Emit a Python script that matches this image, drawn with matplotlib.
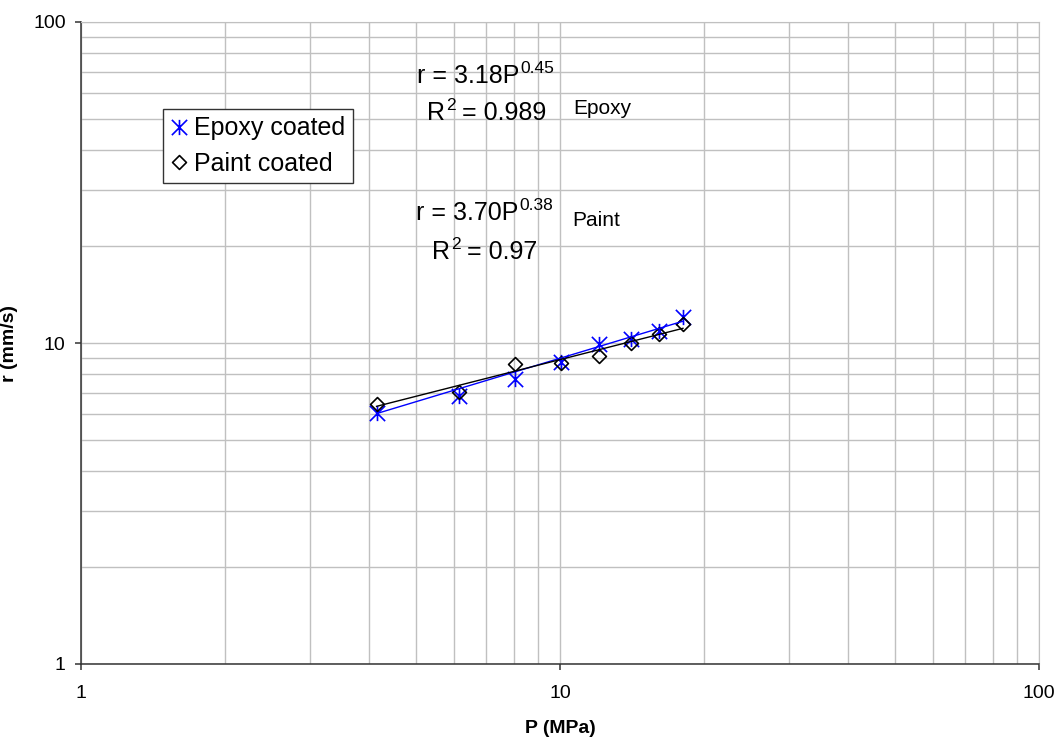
import matplotlib
matplotlib.use("Agg")
import matplotlib.pyplot as plt
import numpy as np
from matplotlib.path import Path

plt.rcParams["font.family"] = ["Liberation Sans", "DejaVu Sans"]

# data
P_epoxy = [4.14, 6.14, 8.05, 10.07, 12.05, 14.1, 16.09, 18.06]
r_epoxy = [6.04, 6.84, 7.71, 8.74, 9.91, 10.27, 10.92, 12.02]
P_paint = [4.14, 6.14, 8.05, 10.07, 12.05, 14.1, 16.09, 18.06]
r_paint = [6.44, 7.02, 8.60, 8.64, 9.11, 9.98, 10.64, 11.47]

# power-law fits as printed on the chart
fit_epoxy = (3.18, 0.45)
fit_paint = (3.70, 0.38)

# excel style asterisk (X plus vertical bar) and open diamond
ast = Path([(0, -1), (0, 1), (-1, -1), (1, 1), (-1, 1), (1, -1)],
           [Path.MOVETO, Path.LINETO, Path.MOVETO, Path.LINETO, Path.MOVETO, Path.LINETO])
dia = Path([(0, 1), (1, 0), (0, -1), (-1, 0), (0, 1)],
           [Path.MOVETO, Path.LINETO, Path.LINETO, Path.LINETO, Path.CLOSEPOLY])

fig = plt.figure(figsize=(10.57, 7.37), dpi=100)
ax = fig.add_axes([81 / 1057, 1 - 664 / 737, 958 / 1057, 642 / 737])
ax.set_xscale("log")
ax.set_yscale("log")
ax.set_xlim(1, 100)
ax.set_ylim(1, 100)

ax.plot(P_epoxy, r_epoxy, linestyle="none", marker=ast, markersize=11,
        markeredgecolor="#0000ff", markerfacecolor="none", markeredgewidth=1.2,
        label="Epoxy coated", zorder=3)
ax.plot(P_paint, r_paint, linestyle="none", marker=dia, markersize=10,
        markeredgecolor="black", markerfacecolor="none", markeredgewidth=1.2,
        label="Paint coated", zorder=3)

pe = np.array(P_epoxy)
pp = np.array(P_paint)
ax.plot(pe, fit_epoxy[0] * pe ** fit_epoxy[1], color="#0000ff", lw=1.0, zorder=4)
ax.plot(pp, fit_paint[0] * pp ** fit_paint[1], color="black", lw=1.0, zorder=4)

# grid + axes styling
ax.grid(which="both", color="#c0c0c0", lw=1.0, zorder=0)
ax.set_axisbelow(True)
for s in ["top", "right"]:
    ax.spines[s].set_color("#c0c0c0")
for s in ["left", "bottom"]:
    ax.spines[s].set_color("#333333")
    ax.spines[s].set_linewidth(1.1)
ticks = [1, 10, 100]
ax.set_xticks(ticks)
ax.set_xticklabels([str(t) for t in ticks])
ax.set_yticks(ticks)
ax.set_yticklabels([str(t) for t in ticks])
ax.tick_params(which="minor", length=0)
ax.tick_params(axis="x", which="major", length=4, width=1.1, color="#333333",
               labelsize=14, pad=11)
ax.tick_params(axis="y", which="major", length=4, width=1.1, color="#333333",
               labelsize=14, pad=7)

ax.set_xlabel("P (MPa)", fontsize=14, fontweight="bold")
ax.xaxis.set_label_coords(0.5, -(720 - 664) / 642)
fig.text(10 / 1057, 1 - 343 / 737, "r (mm/s)", rotation=90, ha="center",
         va="center", fontsize=14, fontweight="bold")


def ax_xy(px, py):
    return (px - 81) / 958, (664 - py) / 642


def power_text(px, py, base, sup, tail=""):
    t1 = ax.text(*ax_xy(px, py), base, transform=ax.transAxes, ha="left",
                 va="baseline", fontsize=18)
    t2 = ax.annotate(sup, xy=(1, 1), xycoords=t1, xytext=(0.5, 2),
                     textcoords="offset points", ha="left", va="top", fontsize=12.5)
    if tail:
        ax.annotate(tail, xy=(1, 0), xycoords=(t2, t1), ha="left", va="bottom",
                    fontsize=18)


power_text(417, 83, "r = 3.18P", "0.45")
power_text(427, 120, "R", "2", " = 0.989")
power_text(416, 220, "r = 3.70P", "0.38")
power_text(432, 259, "R", "2", " = 0.97")
ax.text(*ax_xy(573, 114), "Epoxy", transform=ax.transAxes, ha="left",
        va="baseline", fontsize=15)
ax.text(*ax_xy(572, 226), "Paint", transform=ax.transAxes, ha="left",
        va="baseline", fontsize=15)

leg = ax.legend(loc="upper left", bbox_to_anchor=ax_xy(163, 109), fontsize=18,
                frameon=True, fancybox=False, framealpha=1, edgecolor="#333333",
                borderpad=0.3, handlelength=0.65, handletextpad=0.3,
                labelspacing=0.45, borderaxespad=0)
leg.get_frame().set_linewidth(1.0)

fig.savefig("out.png", dpi=100)
